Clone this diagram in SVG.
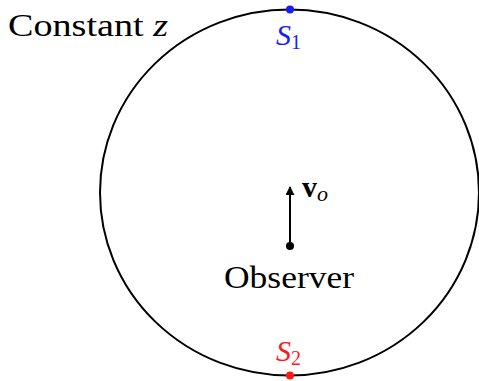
<svg xmlns="http://www.w3.org/2000/svg" width="479" height="381" viewBox="0 0 479 381">
<style>
text{font-family:"Liberation Serif","DejaVu Serif",serif;fill:#000}
.it{font-style:italic}
.blue{fill:#1a1aff}
.red{fill:#ff1a1a}
</style>
<defs>
<marker id="ah" viewBox="0 0 10 10" refX="9" refY="5" markerWidth="4.5" markerHeight="4.5" orient="auto"><path d="M0,0 L10,5 L0,10 Z" fill="#000"/></marker>
</defs>
<g id="region">
<ellipse cx="289.5" cy="192.5" rx="189.5" ry="183" fill="none" stroke="#000" stroke-width="2"/>
<text x="8" y="36" font-size="31" textLength="160" lengthAdjust="spacingAndGlyphs">Constant <tspan class="it">z</tspan></text>
</g>
<g id="S1">
<circle cx="290" cy="9.5" r="4" fill="#1a1aff"/>
<text class="blue" x="276" y="45" font-size="30"><tspan class="it">S</tspan><tspan font-size="20" dy="4">1</tspan></text>
</g>
<g id="S2">
<circle cx="290" cy="375.5" r="4" fill="#ff1a1a"/>
<text class="red" x="276" y="361" font-size="30"><tspan class="it">S</tspan><tspan font-size="20" dy="4">2</tspan></text>
</g>
<g id="connectors">
<line x1="290" y1="246" x2="290" y2="187" stroke="#000" stroke-width="2" marker-end="url(#ah)"/>
</g>
<g id="observer">
<circle cx="290" cy="246" r="4" fill="#000"/>
<text x="224" y="288" font-size="32" textLength="130" lengthAdjust="spacingAndGlyphs">Observer</text>
<text x="302" y="197" font-size="30" font-weight="bold">v<tspan class="it" font-weight="normal" font-size="22" dy="4">o</tspan></text>
</g>
</svg>
